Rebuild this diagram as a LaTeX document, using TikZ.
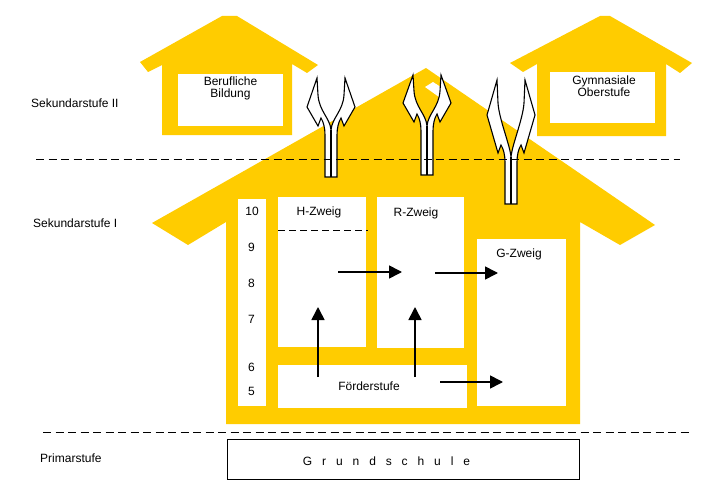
\documentclass[tikz,border=0pt]{standalone}
\usepackage{fontspec}
\setmainfont{Liberation Sans}
\usetikzlibrary{arrows.meta}
\definecolor{hausgelb}{HTML}{FFCC00}
\newcommand\forkarrow[5]{% #1 cx, #2 tip y, #3 corner dy, #4 barb dy, #5 bottom y
  \draw[fork] (#1-14,#2) -- (#1-24,#2+#3) -- (#1-13,#2+#4) -- (#1-10,#2+#4-8)
    .. controls (#1-7.5,#2+#4-4) and (#1-6,#2+#4+2) .. (#1-6,#2+#4+9) -- (#1-6,#5)
    -- (#1+6,#5) -- (#1+6,#2+#4+9)
    .. controls (#1+6,#2+#4+2) and (#1+7.5,#2+#4-4) .. (#1+10,#2+#4-8)
    -- (#1+13,#2+#4) -- (#1+24,#2+#3) -- (#1+14,#2) -- (#1+13,#2+#3-12)
    .. controls (#1+12,#2+#3+4) and (#1+1,#2+#4-8) .. (#1,#2+#4+4)
    .. controls (#1-1,#2+#4-8) and (#1-12,#2+#3+4) .. (#1-13,#2+#3-12) -- cycle;
  \draw[fork] (#1,#2+#4+4) -- (#1,#5);
}
\begin{document}
\begin{tikzpicture}[x=1pt,y=-1pt,
  wbox/.style={fill=white,draw=none},
  lbl/.style={font=\fontsize{12}{12}\selectfont,inner sep=0pt,anchor=base},
  sidelbl/.style={lbl,anchor=base west},
  sep/.style={dash pattern=on 8pt off 4.5pt,line width=1pt},
  flow/.style={line width=1.6pt,-{Triangle[length=13pt,width=13pt]}},
  fork/.style={fill=white,draw=black,line width=1.1pt,line join=miter}
]
\useasboundingbox (0,0) rectangle (725,500);
\fill[white] (0,0) rectangle (725,500);

% small house left
\fill[hausgelb] (140,62) -- (222,16) -- (237,16) -- (318,65) -- (307,73) -- (292,64)
  -- (292,135) -- (162,135) -- (162,65) -- (148,72) -- cycle;
\fill[wbox] (178,74) rectangle (283,126);
% small house right
\fill[hausgelb] (510,63) -- (600,16) -- (610,16) -- (692,63) -- (680,73) -- (666,64)
  -- (666,136) -- (537,136) -- (537,64) -- (523,72) -- cycle;
\fill[wbox] (550,72) rectangle (655,123);
% main house
\fill[hausgelb] (152,223) -- (426,68) -- (655,225) -- (620,245) -- (580,222)
  -- (580,424) -- (226,424) -- (226,222) -- (188,245) -- cycle;
\fill[wbox] (425,87) -- (433,82) -- (447,91) -- (439,97) -- cycle;
\fill[wbox] (238,199) rectangle (266,406);
\fill[wbox] (278,197) rectangle (366,347);
\fill[wbox] (377,197) rectangle (464,348);
\fill[wbox] (477,239) rectangle (566,406);
\fill[wbox] (278,365) rectangle (467,408);

% texts
\node[lbl,align=center] (beruf) at (230.5,98) {Berufliche\\Bildung};
\node[lbl,align=center] (gymo) at (604,97) {Gymnasiale\\Oberstufe};
\node[sidelbl] (sek2) at (31,108) {Sekundarstufe II};
\node[sidelbl] (sek1) at (33,227) {Sekundarstufe I};
\node[sidelbl] (prim) at (40,462) {Primarstufe};
\node[lbl] (g10) at (252,215) {10};
\node[lbl] (g9) at (251.5,251) {9};
\node[lbl] (g8) at (251.5,287) {8};
\node[lbl] (g7) at (251.5,323) {7};
\node[lbl] (g6) at (251.5,371) {6};
\node[lbl] (g5) at (251.5,395) {5};
\node[lbl] (hz) at (319,215.5) {H-Zweig};
\node[lbl] (rz) at (416,216) {R-Zweig};
\node[lbl] (gz) at (519,257) {G-Zweig};
\node[lbl] (fs) at (369,390) {Förderstufe};

% Grundschule
\node[draw=black,line width=1.3pt,minimum width=352pt,minimum height=40pt,inner sep=0pt] (gs) at (403.5,459.5) {};
\node[lbl] (gstext) at (386.5,465) {G\hspace{9.9pt}r\hspace{9.9pt}u\hspace{9.9pt}n\hspace{9.9pt}d\hspace{9.9pt}s\hspace{9.9pt}c\hspace{9.9pt}h\hspace{9.9pt}u\hspace{9.9pt}l\hspace{9.9pt}e};

% fork arrows
\forkarrow{331}{78}{29}{48}{177}
\forkarrow{427}{75}{28}{47}{175}
\forkarrow{511}{80}{35}{73}{204}

% dashed separators
\coordinate (s1a) at (36,159); \coordinate (s1b) at (680,159);
\coordinate (s2a) at (43,432); \coordinate (s2b) at (690,432);
\coordinate (h1a) at (278,230); \coordinate (h1b) at (368,230);
\draw[sep] (s1a) -- (s1b);
\draw[sep] (s2a) -- (s2b);
\draw[dash pattern=on 7pt off 4pt,line width=1pt] (h1a) -- (h1b);

% flow arrows
\coordinate (u1a) at (318,377); \coordinate (u1b) at (318,307);
\coordinate (u2a) at (415,377); \coordinate (u2b) at (415,307);
\coordinate (r1a) at (338,272); \coordinate (r1b) at (402,272);
\coordinate (r2a) at (435,273); \coordinate (r2b) at (498,273);
\coordinate (r3a) at (440,382); \coordinate (r3b) at (503,382);
\draw[flow] (u1a) -- (u1b);
\draw[flow] (u2a) -- (u2b);
\draw[flow] (r1a) -- (r1b);
\draw[flow] (r2a) -- (r2b);
\draw[flow] (r3a) -- (r3b);
\end{tikzpicture}
\end{document}
